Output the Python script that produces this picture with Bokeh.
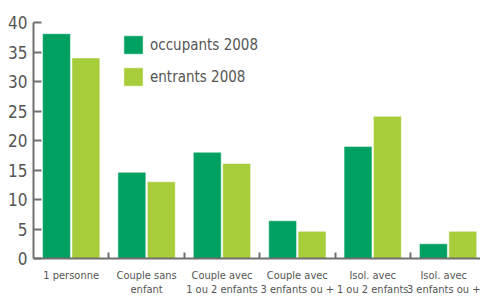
from bokeh.plotting import figure
from bokeh.models import ColumnDataSource, FixedTicker, Range1d, Legend, LegendItem
from bokeh.embed import file_html
from bokeh.resources import INLINE

categories = ["1 personne", "Couple sans\nenfant", "Couple avec\n1 ou 2 enfants",
              "Couple avec\n3 enfants ou +", "Isol. avec\n1 ou 2 enfants", "Isol. avec\n3 enfants ou +"]
occupants_2008 = [38.1, 14.6, 18.0, 6.4, 19.0, 2.5]
entrants_2008 = [34.0, 13.0, 16.1, 4.6, 24.1, 4.6]
y_ticks = [0, 5, 10, 15, 20, 25, 30, 35, 40]

FONT = "DejaVu Sans Condensed"
DARK = "#00a160"
LIGHT = "#a8cd3a"
TXT = "#555555"
AX = "#707070"

centers = [i + 0.5 for i in range(len(categories))]
src = ColumnDataSource(dict(
    x_occ=[c - 0.195 for c in centers],
    x_ent=[c + 0.195 for c in centers],
    occ=occupants_2008, ent=entrants_2008))

p = figure(frame_width=447, frame_height=236, output_backend="svg", toolbar_location=None,
           x_range=Range1d(0, 5.93), y_range=Range1d(0, 40),
           min_border_left=33, min_border_top=22, min_border_right=0, min_border_bottom=0)
p.outline_line_color = None
p.grid.grid_line_color = None

r1 = p.vbar(x="x_occ", top="occ", width=0.37, source=src, fill_color=DARK,
            line_color="white", line_width=0.5)
r2 = p.vbar(x="x_ent", top="ent", width=0.37, source=src, fill_color=LIGHT,
            line_color="white", line_width=0.5)

# y axis
ya = p.yaxis[0]
ya.ticker = FixedTicker(ticks=y_ticks, minor_ticks=[])
ya.axis_line_color = AX
ya.axis_line_width = 2
ya.major_tick_line_color = AX
ya.major_tick_line_width = 2
ya.major_tick_in = 8
ya.major_tick_out = 0
ya.minor_tick_line_color = None
ya.major_label_text_font = FONT
ya.major_label_text_font_size = "17px"
ya.major_label_text_color = TXT
ya.major_label_standoff = 6

# x axis: labels at centers, boundary ticks as minor ticks
xa = p.xaxis[0]
xa.ticker = FixedTicker(ticks=centers, minor_ticks=[1, 2, 3, 4, 5])
xa.major_label_overrides = {c: lab for c, lab in zip(centers, categories)}
xa.major_tick_line_color = None
xa.minor_tick_line_color = AX
xa.minor_tick_line_width = 2
xa.minor_tick_in = 6
xa.minor_tick_out = 0
xa.axis_line_color = AX
xa.axis_line_width = 2
xa.major_label_text_font = FONT
xa.major_label_text_font_size = "11px"
xa.major_label_text_line_height = 1.1
xa.major_label_text_color = TXT
xa.major_label_standoff = 4

legend = Legend(items=[LegendItem(label="occupants 2008", renderers=[r1]),
                       LegendItem(label="entrants 2008", renderers=[r2])],
                location=(88, 170), orientation="vertical")
legend.glyph_width = 24
legend.glyph_height = 23
legend.label_height = 23
legend.spacing = 9
legend.padding = 0
legend.margin = 0
legend.label_standoff = 5
legend.border_line_color = None
legend.background_fill_alpha = 0
legend.label_text_font = FONT
legend.label_text_font_size = "15px"
legend.label_text_color = TXT
p.add_layout(legend)

open("out.html", "w").write(file_html(p, INLINE))
